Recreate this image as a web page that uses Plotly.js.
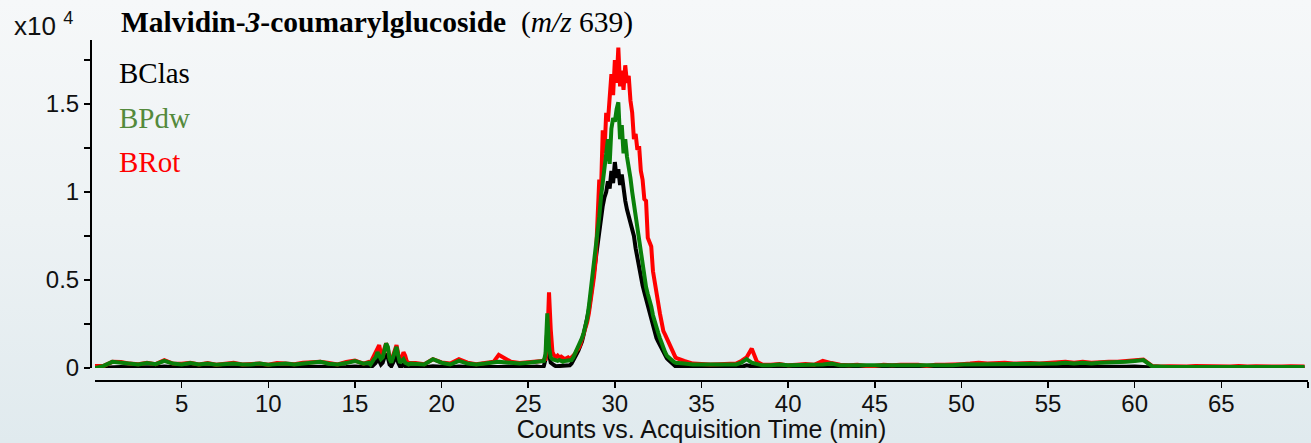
<!DOCTYPE html>
<html>
<head>
<meta charset="utf-8">
<script src="https://cdn.plot.ly/plotly-3.0.1.min.js"></script>
<style>
html,body{margin:0;padding:0;}
body{width:1311px;height:443px;overflow:hidden;background:linear-gradient(to bottom,#f6f8f9 0%,#edf2f4 50%,#e0eaee 100%);}
#chart{width:1311px;height:443px;}
</style>
</head>
<body>
<div id="chart"></div>
<script>
// Acquisition time (min)
const times = [
  0,0.5,1,1.5,2,2.5,3,3.5,4,4.5,5,5.5,6,6.5,7,7.5,8,8.5,9,9.5,10,10.5,11,11.5,12,12.5,13,13.5,14,14.5,15,15.5,
  15.8,15.9,16.0,16.1,16.2,16.3,16.4,16.5,16.6,16.7,16.8,16.9,17.0,17.1,17.2,17.3,17.4,17.5,17.6,17.7,17.8,17.9,18.0,18.1,18.2,
  18.5,19,19.5,20,20.5,21,21.5,22,22.5,23,23.3,24,24.5,25,25.5,
  25.8,25.9,26.0,26.1,26.2,26.3,26.4,26.5,26.6,26.7,26.8,26.9,27.0,27.1,27.2,
  27.3,27.4,27.5,27.6,27.7,27.8,27.9,28.0,28.1,28.2,
  28.3,28.4,28.5,28.6,28.7,28.8,28.9,29.0,29.1,29.2,
  29.3,29.4,29.5,29.6,29.7,29.8,29.9,30.0,30.1,30.2,
  30.3,30.4,30.5,30.6,30.7,30.8,30.9,31.0,31.1,31.2,
  31.3,31.4,31.5,31.6,31.7,31.8,31.9,32.0,32.1,32.2,
  32.3,32.4,32.5,32.6,32.7,32.8,32.9,33.0,33.1,33.2,
  33.3,33.4,33.5,33.6,33.7,33.8,33.9,34.0,
  34.5,35,35.5,36,36.5,37,37.3,37.6,37.9,38.2,38.5,
  39,39.5,40,40.5,41,41.5,42,42.5,43,43.5,
  44,44.5,45,45.5,46,46.5,47,47.5,48,48.5,
  49,49.5,50,50.5,51,51.5,52,52.5,53,53.5,
  54,54.5,55,55.5,56,56.5,57,57.5,58,58.5,
  59,59.5,60,60.5,61,61.5,62,62.5,63,63.5,
  64,64.5,65,65.5,66,66.5,67,67.5,68,68.5,
  69,69.5,69.8
];

// Counts (x10^4)
const BClas = [
  0,0.003,0.008,0.006,0.004,0.003,0.006,0.004,0.008,0.004,0.003,0.005,0.003,0.004,0.003,0.004,0.005,0.003,0.003,0.005,0.003,0.004,0.005,0.003,0.004,0.006,0.007,0.004,0.003,0.005,0.008,0.004,
  0.004,0.004,0.01,0.02,0.03,0.05,0.04,0.02,0.03,0.06,0.08,0.06,0.02,0.01,0.03,0.06,0.07,0.03,0.01,0.01,0.02,0.01,0.005,0.004,0.004,
  0.004,0.004,0.01,0.005,0.004,0.008,0.005,0.004,0.005,0.008,0.006,0.008,0.005,0.005,0.008,
  0.005,0.01,0.05,0.22,0.08,0.03,0.02,0.015,0.01,0.01,0.01,0.01,0.01,0.01,0.01,
  0.01,0.015,0.025,0.04,0.06,0.08,0.10,0.12,0.15,0.19,
  0.23,0.27,0.33,0.40,0.48,0.55,0.63,0.72,0.79,0.86,
  0.92,0.97,1.00,1.06,1.02,1.12,1.05,1.17,1.08,1.13,
  1.04,1.10,1.00,0.95,0.90,0.86,0.82,0.79,0.75,0.68,
  0.62,0.57,0.52,0.47,0.43,0.39,0.35,0.31,0.27,0.23,
  0.20,0.17,0.15,0.13,0.11,0.09,0.07,0.055,0.045,0.035,
  0.025,0.015,0.01,0.005,0.005,0.005,0.005,0.005,
  0.004,0.004,0.003,0.004,0.004,0.004,0.006,0.015,0.008,0.004,0.003,
  0.003,0.003,0.003,0.003,0.003,0.003,0.004,0.004,0.003,0.003,
  0.003,0.002,0.002,0.003,0.002,0.003,0.003,0.003,0.002,0.003,
  0.003,0.003,0.004,0.004,0.005,0.004,0.005,0.005,0.004,0.005,
  0.005,0.004,0.005,0.005,0.006,0.005,0.006,0.005,0.006,0.006,
  0.006,0.007,0.008,0.008,0.003,0.002,0.002,0.002,0.002,0.002,
  0.002,0.002,0.002,0.002,0.002,0.002,0.002,0.002,0.002,0.002,
  0.002,0.002,0.002
];

const BPdw = [
  0.0,0.012,0.035,0.03,0.025,0.02,0.028,0.022,0.04,0.025,0.02,0.028,0.02,0.025,0.018,0.022,0.026,0.02,0.02,0.026,0.018,0.022,0.026,0.02,0.025,0.03,0.035,0.024,0.02,0.028,0.04,0.025,
  0.03,0.02,0.04,0.05,0.06,0.09,0.07,0.05,0.06,0.10,0.14,0.12,0.05,0.03,0.06,0.10,0.12,0.07,0.03,0.04,0.05,0.03,0.025,0.02,0.025,
  0.025,0.02,0.05,0.03,0.02,0.04,0.025,0.02,0.025,0.03,0.035,0.03,0.025,0.03,0.035,
  0.035,0.04,0.08,0.31,0.12,0.06,0.05,0.045,0.04,0.04,0.045,0.04,0.035,0.04,0.04,
  0.04,0.04,0.045,0.06,0.08,0.10,0.12,0.14,0.17,0.20,
  0.24,0.28,0.35,0.43,0.50,0.58,0.67,0.76,0.86,0.97,
  1.05,1.12,1.18,1.30,1.16,1.36,1.42,1.40,1.47,1.51,
  1.30,1.38,1.22,1.30,1.20,1.15,1.08,1.00,0.93,0.86,
  0.79,0.71,0.64,0.57,0.51,0.46,0.42,0.39,0.35,0.30,
  0.26,0.23,0.20,0.17,0.14,0.11,0.09,0.07,0.06,0.05,
  0.04,0.035,0.03,0.03,0.025,0.025,0.03,0.025,
  0.02,0.02,0.015,0.02,0.02,0.02,0.03,0.05,0.03,0.02,0.015,
  0.015,0.02,0.015,0.015,0.02,0.015,0.02,0.025,0.015,0.015,
  0.015,0.01,0.01,0.015,0.01,0.015,0.015,0.015,0.01,0.015,
  0.015,0.015,0.02,0.02,0.025,0.02,0.025,0.025,0.02,0.025,
  0.025,0.02,0.025,0.025,0.03,0.025,0.03,0.025,0.03,0.03,
  0.03,0.035,0.04,0.045,0.01,0.005,0.005,0.006,0.005,0.005,
  0.006,0.005,0.005,0.005,0.005,0.005,0.005,0.005,0.005,0.005,
  0.005,0.005,0.005
];

const BRot = [
  0.012,0.012,0.035,0.034,0.025,0.022,0.03,0.022,0.045,0.025,0.024,0.03,0.02,0.028,0.018,0.026,0.03,0.02,0.024,0.026,0.018,0.028,0.026,0.022,0.03,0.03,0.035,0.028,0.02,0.034,0.042,0.025,
  0.035,0.03,0.05,0.06,0.08,0.10,0.13,0.08,0.06,0.11,0.14,0.11,0.06,0.04,0.07,0.11,0.13,0.08,0.04,0.05,0.09,0.07,0.035,0.03,0.03,
  0.028,0.022,0.05,0.032,0.025,0.05,0.03,0.022,0.03,0.035,0.075,0.035,0.028,0.032,0.04,
  0.04,0.045,0.05,0.15,0.43,0.22,0.09,0.07,0.06,0.07,0.06,0.065,0.06,0.05,0.055,
  0.06,0.05,0.06,0.07,0.08,0.10,0.11,0.13,0.16,0.19,
  0.22,0.26,0.31,0.37,0.45,0.52,0.62,0.80,1.07,1.00,
  1.35,1.22,1.45,1.40,1.52,1.67,1.55,1.75,1.62,1.82,
  1.60,1.69,1.58,1.72,1.62,1.66,1.52,1.45,1.30,1.33,
  1.24,1.26,1.12,1.07,0.96,0.95,0.74,0.72,0.69,0.55,
  0.48,0.42,0.36,0.31,0.26,0.21,0.19,0.17,0.15,0.12,
  0.10,0.08,0.06,0.055,0.05,0.045,0.04,0.04,
  0.025,0.022,0.02,0.022,0.022,0.025,0.04,0.06,0.11,0.035,0.02,
  0.018,0.022,0.015,0.018,0.022,0.018,0.04,0.028,0.018,0.015,
  0.018,0.012,0.012,0.018,0.015,0.018,0.018,0.018,0.012,0.018,
  0.018,0.018,0.022,0.025,0.03,0.025,0.028,0.03,0.025,0.028,
  0.028,0.025,0.028,0.03,0.035,0.03,0.035,0.03,0.035,0.035,
  0.035,0.038,0.042,0.048,0.012,0.008,0.01,0.008,0.008,0.012,
  0.01,0.008,0.01,0.008,0.012,0.008,0.01,0.008,0.01,0.008,
  0.01,0.008,0.008
];

const seriesNames = ['BClas', 'BRot', 'BPdw'];
const seriesValues = [BClas, BRot, BPdw];
const lineColors = ['#000000', '#ff0000', '#0a800a'];

const xTickVals = [5,10,15,20,25,30,35,40,45,50,55,60,65,70];
const xTickText = ['5','10','15','20','25','30','35','40','45','50','55','60','65',''];
const yTickVals = [0,0.25,0.5,0.75,1,1.25,1.5,1.75];
const yTickText = ['0','','0.5','','1','','1.5',''];

const legendLabels = ['BClas', 'BPdw', 'BRot'];
const legendColors = ['#000000', '#548a3c', '#ff0000'];

const traces = seriesNames.map((n, i) => ({
  type: 'scatter', mode: 'lines', name: n,
  x: times, y: seriesValues[i],
  line: {color: lineColors[i], width: 4},
  hoverinfo: 'skip'
}));

const W = 1311, H = 443, L = 91, R = 3, T = 40, B = 63;
const PW = W - L - R, PH = H - T - B;
const sans = 'Liberation Sans, Arial, sans-serif';
const serif = 'Liberation Serif, Times New Roman, serif';

const legendY = [73, 118, 162];
const annotations = legendLabels.map((t, i) => ({
  text: t, xref: 'paper', yref: 'paper',
  x: (117 - L) / PW, y: (H - B - legendY[i]) / PH,
  xanchor: 'left', yanchor: 'middle', showarrow: false,
  font: {family: serif, size: 29, color: legendColors[i]}
}));
annotations.push({
  text: 'x10 <sup>4</sup>', xref: 'paper', yref: 'paper',
  x: (12 - L) / PW, y: (H - B - 25) / PH,
  xanchor: 'left', yanchor: 'middle', showarrow: false,
  font: {family: sans, size: 26, color: '#111'}
});

let lenOk = times.length === BClas.length && times.length === BPdw.length && times.length === BRot.length;

const layout = {
  width: W, height: H,
  margin: {l: L, r: R, t: T, b: B, pad: 0},
  paper_bgcolor: 'rgba(0,0,0,0)', plot_bgcolor: 'rgba(0,0,0,0)',
  showlegend: false,
  title: {
    text: lenOk ? '<b>Malvidin-<i>3</i>-coumarylglucoside</b>\u00a0\u00a0(<i>m/z</i> 639)' : 'LENGTH MISMATCH ' + times.length + ' ' + BClas.length + ' ' + BPdw.length + ' ' + BRot.length,
    x: 121 / W, xref: 'container', xanchor: 'left',
    y: 1 - 22 / H, yref: 'container', yanchor: 'middle',
    font: {family: serif, size: 29.5, color: '#000'}
  },
  xaxis: {
    domain: [4 / PW, 1], range: [0, 70], anchor: 'free', position: 0,
    showline: true, linecolor: '#000', linewidth: 1.5,
    ticks: 'outside', ticklen: 6, tickwidth: 1.5, tickcolor: '#000',
    tickvals: xTickVals, ticktext: xTickText,
    ticklabelstandoff: -4,
    tickfont: {family: sans, size: 24, color: '#111'},
    showgrid: false, zeroline: false,
    title: {text: 'Counts vs. Acquisition Time (min)', font: {family: sans, size: 25, color: '#111'}, standoff: 0}
  },
  yaxis: {
    domain: [12 / PH, 1], range: [0, 328 / 176], anchor: 'free', position: 0,
    showline: true, linecolor: '#000', linewidth: 2.2,
    ticks: 'outside', ticklen: 6, tickwidth: 1.5, tickcolor: '#000',
    tickvals: yTickVals, ticktext: yTickText,
    tickfont: {family: sans, size: 24, color: '#111'},
    showgrid: false, zeroline: false
  },
  annotations: annotations
};

Plotly.newPlot('chart', traces, layout, {staticPlot: true, displayModeBar: false});
</script>
</body>
</html>
